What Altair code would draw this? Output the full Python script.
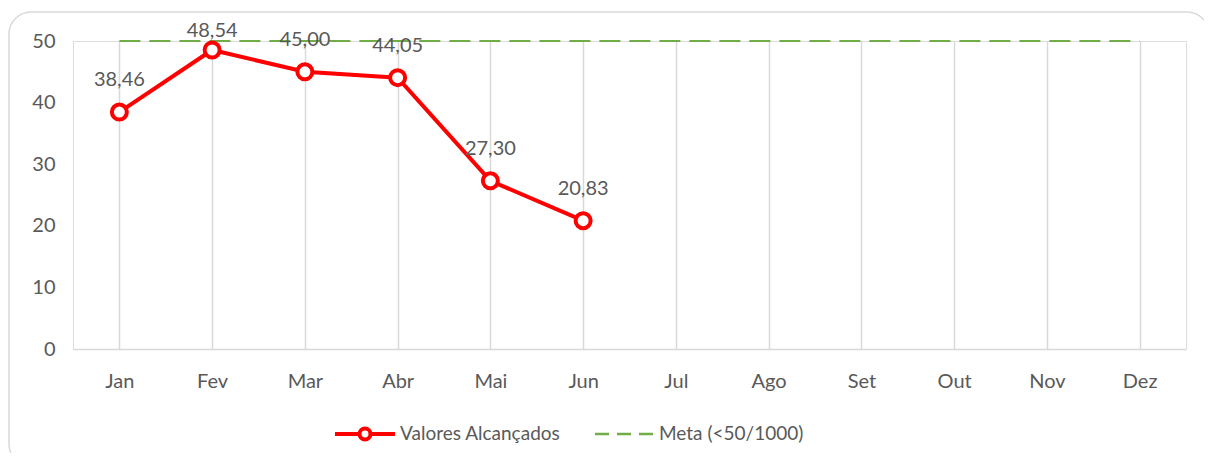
import altair as alt
import pandas as pd

meses = ["Jan", "Fev", "Mar", "Abr", "Mai", "Jun", "Jul", "Ago", "Set", "Out", "Nov", "Dez"]
valores = [38.46, 48.54, 45.00, 44.05, 27.30, 20.83]
meta = [50] * 12
serie_valores = "Valores Alcançados"
serie_meta = "Meta (<50/1000)"

df_val = pd.DataFrame({"mes": meses[:len(valores)], "valor": valores})
df_meta = pd.DataFrame({"mes": meses, "meta": meta})

FONT = "Lato"
GRAY = "#595959"
RED = "#ff0000"
GREEN = "#70ad47"
W, H = 1113, 308

x_enc = alt.X("mes:N", sort=meses, scale=alt.Scale(type="point", domain=meses, padding=0.5),
              axis=alt.Axis(title=None, labelAngle=0, labelPadding=22, ticks=False, grid=True,
                            gridColor="#d9d9d9", gridWidth=1.5, domainColor="#d9d9d9", domainWidth=1.5,
                            labelColor=GRAY, labelFont=FONT, labelFontSize=20))
y_scale = alt.Scale(domain=[0, 50], nice=False)
y_axis = alt.Axis(title=None, values=[0, 10, 20, 30, 40, 50], grid=False, domain=False, ticks=False,
                  labelPadding=18, labelColor=GRAY, labelFont=FONT, labelFontSize=20)

meta_line = alt.Chart(df_meta).mark_line(color=GREEN, strokeWidth=2, strokeDash=[21, 9]).encode(
    x=x_enc, y=alt.Y("meta:Q", scale=y_scale, axis=y_axis))

val_line = alt.Chart(df_val).mark_line(color=RED, strokeWidth=4).encode(
    x=alt.X("mes:N", sort=meses), y=alt.Y("valor:Q", scale=y_scale))

val_pts = alt.Chart(df_val).mark_point(shape="circle", filled=True, fill="white", stroke=RED,
                                       strokeWidth=4, size=225, opacity=1).encode(
    x=alt.X("mes:N", sort=meses), y=alt.Y("valor:Q", scale=y_scale))

val_text = alt.Chart(df_val).transform_calculate(
    rotulo="replace(format(datum.valor, '.2f'), '.', ',')",
    ypos="min(datum.valor, 46.4)"
).mark_text(dy=-32, font=FONT, fontSize=20, color=GRAY).encode(
    x=alt.X("mes:N", sort=meses), y=alt.Y("ypos:Q", scale=y_scale), text="rotulo:N")

# moldura do gráfico
one = alt.Data(values=[{"k": 1}])
border = alt.Chart(one).mark_rect(filled=False, stroke="#d9d9d9", strokeWidth=1.5, cornerRadius=22).encode(
    x=alt.value(-64), x2=alt.value(1136), y=alt.value(-29), y2=alt.value(425))

# legenda
leg_red = alt.Chart(one).mark_rule(color=RED, strokeWidth=4).encode(
    x=alt.value(262), x2=alt.value(322), y=alt.value(393))
leg_red_pt = alt.Chart(one).mark_point(shape="circle", filled=True, fill="white", stroke=RED,
                                       strokeWidth=4, size=120, opacity=1).encode(
    x=alt.value(292), y=alt.value(393))
leg_red_txt = alt.Chart(pd.DataFrame({"t": [serie_valores]})).mark_text(
    align="left", baseline="middle", font=FONT, fontSize=19, color=GRAY).encode(
    x=alt.value(327), y=alt.value(393), text="t:N")
leg_green = alt.Chart(one).mark_rule(color=GREEN, strokeWidth=2.5, strokeDash=[14, 8]).encode(
    x=alt.value(522), x2=alt.value(580), y=alt.value(393))
leg_green_txt = alt.Chart(pd.DataFrame({"t": [serie_meta]})).mark_text(
    align="left", baseline="middle", font=FONT, fontSize=19, color=GRAY).encode(
    x=alt.value(586), y=alt.value(393), text="t:N")

chart = alt.layer(
    border, meta_line, val_line, val_pts, val_text,
    leg_red, leg_red_pt, leg_red_txt, leg_green, leg_green_txt
).properties(
    width=W, height=H,
    autosize=alt.AutoSizeParams(type="none"),
    padding={"left": 65, "top": 33, "right": 18, "bottom": 104}
).configure_view(stroke=None).configure(background="white")

chart.save("out.html", embed_options={"renderer": "svg", "actions": False})
